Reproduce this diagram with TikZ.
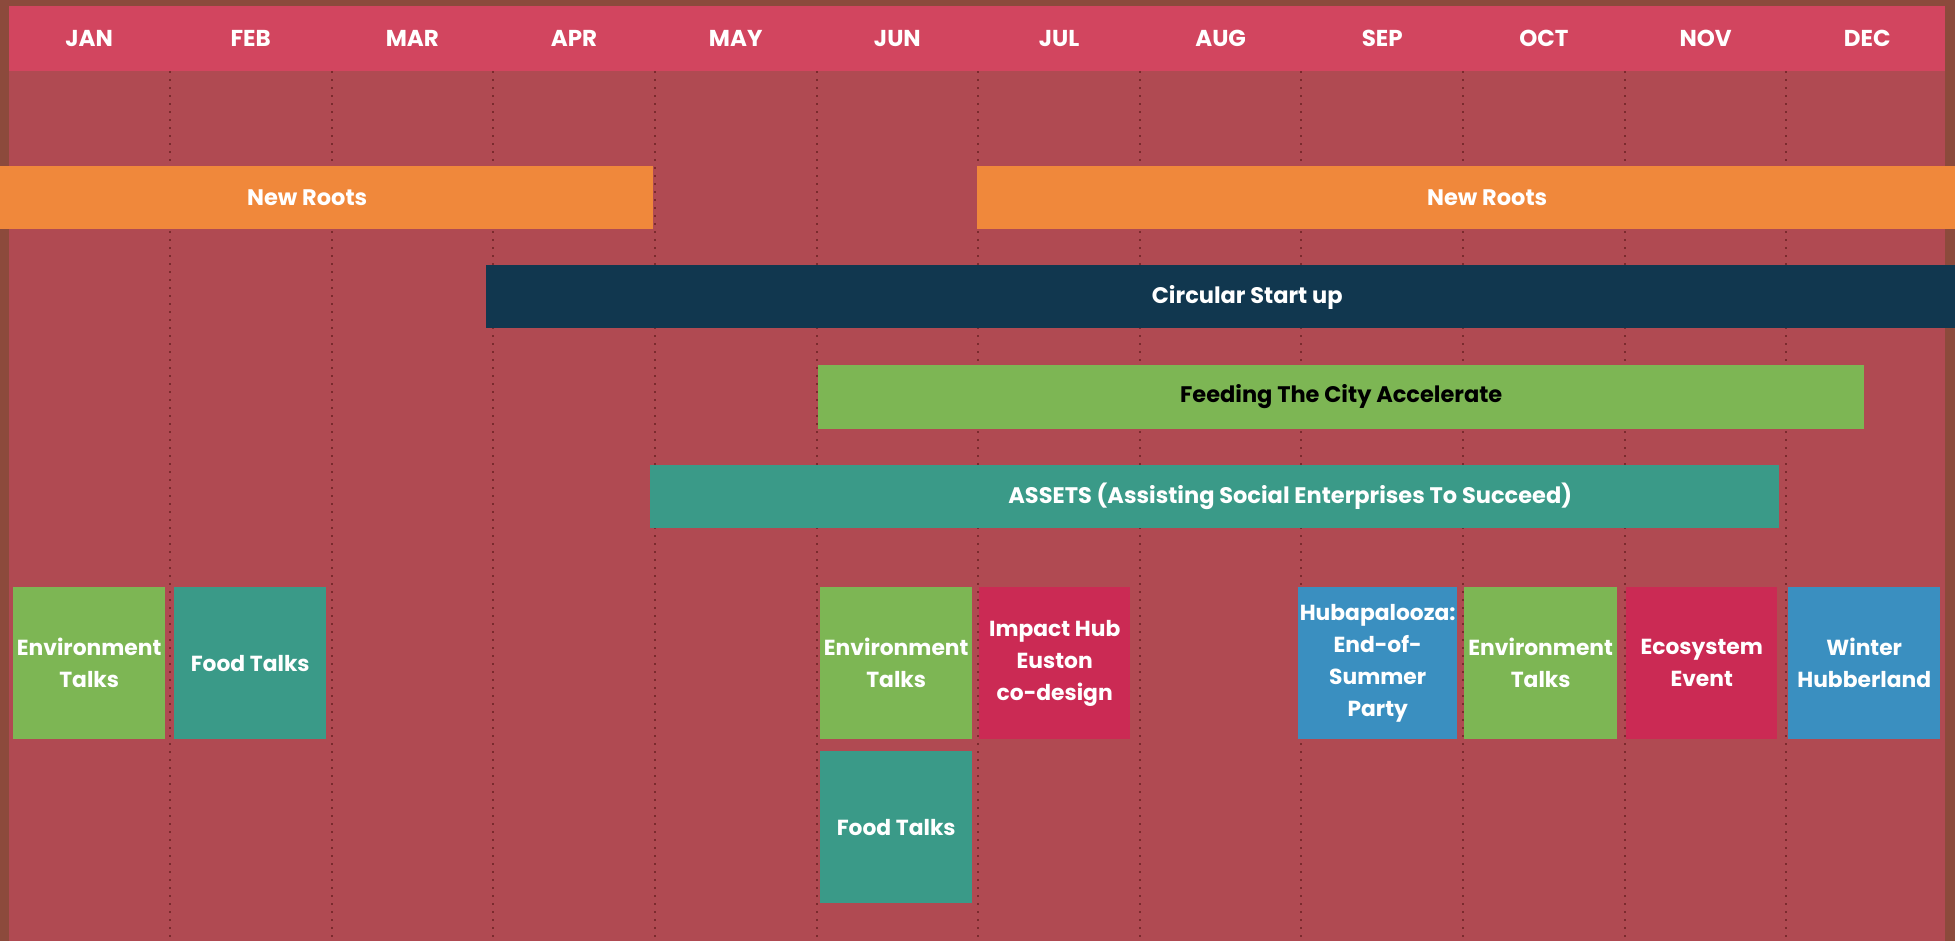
\documentclass[tikz,border=0pt]{standalone}
\usepackage{fontspec}
\setmainfont{Poppins}
\usetikzlibrary{positioning}

\definecolor{bgbrown}{HTML}{8C4A3C}
\definecolor{board}{HTML}{B04A52}
\definecolor{header}{HTML}{D2455F}
\definecolor{dotline}{HTML}{7B2B2E}
\definecolor{rootsorange}{HTML}{F0883B}
\definecolor{startnavy}{HTML}{11374F}
\definecolor{leafgreen}{HTML}{7DB654}
\definecolor{seateal}{HTML}{3A9A88}
\definecolor{hubcrimson}{HTML}{CB2A54}
\definecolor{hubblue}{HTML}{3A8FC0}

\begin{document}
\begin{tikzpicture}[
    x=1pt,y=-1pt, % pixel grid, y down
    month/.style={text=white,font=\bfseries\fontsize{23}{26}\selectfont,minimum width=161.25pt,minimum height=65pt,inner sep=0pt},
    bar/.style={minimum height=63pt,inner sep=0pt,anchor=west},
    bartext/.style={text=white,font=\bfseries\fontsize{22.5}{26}\selectfont},
    evbox/.style={text=white,font=\bfseries\fontsize{21.8}{32}\selectfont,align=center,minimum width=152pt,minimum height=152pt,inner sep=0pt,anchor=north west},
    dotrule/.style={dotline,line width=2pt,dash pattern=on 2pt off 6pt}
]
\useasboundingbox (0,0) rectangle (1955,941);
\fill[bgbrown] (0,0) rectangle (1955,941);

% Board and header band
\fill[board] (8.5,71) rectangle (1945,941);
\fill[header] (8.5,6) rectangle (1945,71);

% Months
\node[month] (m1) at (89.1,38.5) {JAN};
\foreach \m [count=\i from 2, evaluate=\i as \j using int(\i-1)] in {FEB,MAR,APR,MAY,JUN,JUL,AUG,SEP,OCT,NOV,DEC} {
    \node[month, right=0pt of m\j] (m\i) {\m};
}

% Dotted month rules
\foreach \k in {1,...,11} {
    \draw[dotrule] (m\k.south east) -- (m\k.south east |- 0,941);
}

% Programme bars
\node[bar, fill=rootsorange, minimum width=653pt,
      label={[bartext,xshift=-19.5pt]center:New Roots}] (roots1) at (0,197.5) {};
\node[bar, fill=rootsorange, minimum width=978pt,
      label={[bartext,xshift=21pt]center:New Roots}] (roots2) at (977,197.5) {};
\node[bar, fill=startnavy, minimum width=1469pt,
      label={[bartext,xshift=26.5pt]center:Circular Start up}] (circular) at (486,297) {};
\node[bar, fill=leafgreen, minimum width=1046pt,
      label={[bartext,text=black]center:Feeding The City Accelerate}] (feeding) at (818,397) {};
\node[bar, fill=seateal, minimum width=1129pt,
      label={[bartext,xshift=75.5pt]center:ASSETS (Assisting Social Enterprises To Succeed)}] (assets) at (650,496) {};

% Events
\node[evbox, fill=leafgreen] (envjan) at (13,587) {Environment\\Talks};
\node[evbox, fill=seateal] (foodfeb) at (174,587) {Food Talks};
\node[evbox, fill=leafgreen] (envjun) at (820,587) {Environment\\Talks};
\node[evbox, fill=seateal] (foodjun) at (820,751) {Food Talks};
\node[evbox, fill=hubcrimson, minimum width=151pt] (impact) at (979,587) {Impact Hub\\Euston\\co-design};
\node[evbox, fill=hubblue, minimum width=159pt] (party) at (1298,587) {Hubapalooza:\\End-of-\\Summer\\Party};
\node[evbox, fill=leafgreen, minimum width=153pt] (envoct) at (1464,587) {Environment\\Talks};
\node[evbox, fill=hubcrimson, minimum width=151pt] (ecosystem) at (1626,587) {Ecosystem\\Event};
\node[evbox, fill=hubblue] (winter) at (1788,587) {Winter\\Hubberland};

\end{tikzpicture}
\end{document}
